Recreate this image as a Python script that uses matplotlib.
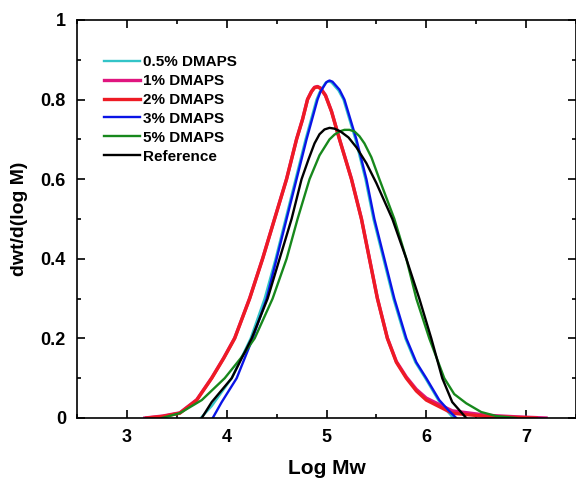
import numpy as np
import matplotlib
matplotlib.use("Agg")
import matplotlib.pyplot as plt
from matplotlib.ticker import MultipleLocator, FuncFormatter

plt.rcParams["font.family"] = ["Liberation Sans", "DejaVu Sans"]
plt.rcParams["font.weight"] = "bold"

# values (Log Mw, dwt/d(log M))
x_red = [3.20, 3.36, 3.53, 3.70, 3.85, 3.97, 4.08, 4.23, 4.36, 4.48, 4.60, 4.70, 4.76, 4.81, 4.85, 4.88,
         4.91, 4.94, 4.99, 5.05, 5.13, 5.25, 5.35, 5.43, 5.51, 5.61, 5.70, 5.80, 5.90, 6.00, 6.26, 6.60, 7.10]
y_red = [0.0, 0.004, 0.012, 0.045, 0.100, 0.150, 0.200, 0.300, 0.400, 0.500, 0.600, 0.700, 0.750, 0.800, 0.820, 0.830,
         0.832, 0.828, 0.810, 0.770, 0.700, 0.600, 0.500, 0.400, 0.300, 0.200, 0.140, 0.100, 0.068, 0.045, 0.012, 0.004, 0.0]

x_pink = [3.18, 3.36, 3.53, 3.70, 3.85, 3.97, 4.08, 4.23, 4.36, 4.48, 4.60, 4.70, 4.76, 4.81, 4.85, 4.88,
          4.91, 4.94, 4.99, 5.05, 5.13, 5.25, 5.35, 5.43, 5.51, 5.61, 5.70, 5.80, 5.90, 6.00, 6.26, 6.60, 6.90, 7.20]
y_pink = [0.0, 0.005, 0.013, 0.046, 0.101, 0.151, 0.201, 0.301, 0.401, 0.501, 0.601, 0.701, 0.751, 0.801, 0.821, 0.831,
          0.833, 0.829, 0.811, 0.771, 0.701, 0.601, 0.501, 0.401, 0.301, 0.201, 0.142, 0.103, 0.072, 0.050, 0.018, 0.007, 0.003, 0.0]

x_cyan = [3.74, 3.85, 4.05, 4.24, 4.38, 4.49, 4.59, 4.69, 4.79, 4.90, 4.93, 4.99, 5.02, 5.05, 5.12, 5.17,
          5.29, 5.39, 5.47, 5.57, 5.67, 5.79, 5.89, 5.99, 6.12, 6.20, 6.27]
y_cyan = [0.0, 0.030, 0.100, 0.200, 0.300, 0.400, 0.500, 0.600, 0.700, 0.800, 0.818, 0.842, 0.846, 0.843, 0.823, 0.800,
          0.700, 0.600, 0.500, 0.400, 0.300, 0.200, 0.140, 0.100, 0.045, 0.020, 0.0]

x_blue = [3.86, 3.95, 4.10, 4.26, 4.40, 4.50, 4.60, 4.70, 4.80, 4.91, 4.94, 5.00, 5.03, 5.06, 5.13, 5.18,
          5.30, 5.40, 5.48, 5.58, 5.68, 5.80, 5.90, 6.00, 6.13, 6.22, 6.30]
y_blue = [0.0, 0.040, 0.100, 0.200, 0.300, 0.400, 0.500, 0.600, 0.700, 0.800, 0.820, 0.844, 0.848, 0.845, 0.825, 0.800,
          0.700, 0.600, 0.500, 0.400, 0.300, 0.200, 0.140, 0.100, 0.045, 0.020, 0.0]

x_green = [3.35, 3.53, 3.75, 3.98, 4.14, 4.28, 4.46, 4.60, 4.71, 4.83, 4.93, 5.03, 5.08, 5.13, 5.18, 5.23, 5.28,
           5.33, 5.38, 5.45, 5.53, 5.68, 5.80, 5.90, 6.03, 6.18, 6.28, 6.40, 6.55, 6.70, 6.90]
y_green = [0.0, 0.012, 0.045, 0.100, 0.150, 0.200, 0.300, 0.400, 0.500, 0.600, 0.660, 0.700, 0.712, 0.720, 0.724, 0.724, 0.720,
           0.708, 0.690, 0.655, 0.600, 0.500, 0.400, 0.300, 0.200, 0.100, 0.060, 0.037, 0.015, 0.005, 0.0]

x_black = [3.75, 3.85, 4.05, 4.25, 4.41, 4.53, 4.65, 4.75, 4.82, 4.88, 4.93, 4.98, 5.03, 5.08, 5.14, 5.22,
           5.30, 5.40, 5.50, 5.58, 5.66, 5.80, 5.93, 6.05, 6.16, 6.26, 6.40]
y_black = [0.0, 0.040, 0.100, 0.200, 0.300, 0.400, 0.500, 0.600, 0.650, 0.690, 0.713, 0.725, 0.729, 0.727, 0.720, 0.705,
           0.680, 0.640, 0.590, 0.545, 0.500, 0.400, 0.300, 0.200, 0.100, 0.040, 0.0]

series = [
    ("0.5% DMAPS", x_cyan, y_cyan, "#33c4c8", 1.7),
    ("1% DMAPS", x_pink, y_pink, "#e0157f", 2.4),
    ("2% DMAPS", x_red, y_red, "#ee1b24", 2.4),
    ("3% DMAPS", x_blue, y_blue, "#0a14e6", 1.7),
    ("5% DMAPS", x_green, y_green, "#17881c", 1.7),
    ("Reference", x_black, y_black, "#000000", 1.7),
]

fig = plt.figure(figsize=(5.76, 4.78), dpi=100)
ax = fig.add_axes([77 / 576, 60 / 478, 499 / 576, 398 / 478])

for label, xs, ys, color, lw in series:
    ax.plot(xs, ys, color=color, lw=lw, label=label, solid_joinstyle="round")

ax.set_xlim(2.5, 7.5)
ax.set_ylim(0, 1)
ax.xaxis.set_major_locator(MultipleLocator(1))
ax.xaxis.set_minor_locator(MultipleLocator(0.5))
ax.yaxis.set_major_locator(MultipleLocator(0.2))
ax.yaxis.set_minor_locator(MultipleLocator(0.1))
ax.yaxis.set_major_formatter(FuncFormatter(lambda v, p: f"{v:g}"))
ax.tick_params(which="both", direction="in", top=True, right=True, width=1.2)
ax.tick_params(which="major", length=6, labelsize=13, pad=8)
ax.tick_params(which="minor", length=3)
for s in ax.spines.values():
    s.set_linewidth(1.2)

ax.set_xlabel("Log Mw", fontsize=15, fontweight="bold", labelpad=9)
ax.set_ylabel("dwt/d(log M)", fontsize=14, fontweight="bold", labelpad=9)

ax.legend(loc="upper left", bbox_to_anchor=(0.041, 0.927), frameon=False,
          fontsize=11, handlelength=2.4, handletextpad=0.2, labelspacing=0.32,
          borderaxespad=0)

fig.savefig("out.png", dpi=100)
